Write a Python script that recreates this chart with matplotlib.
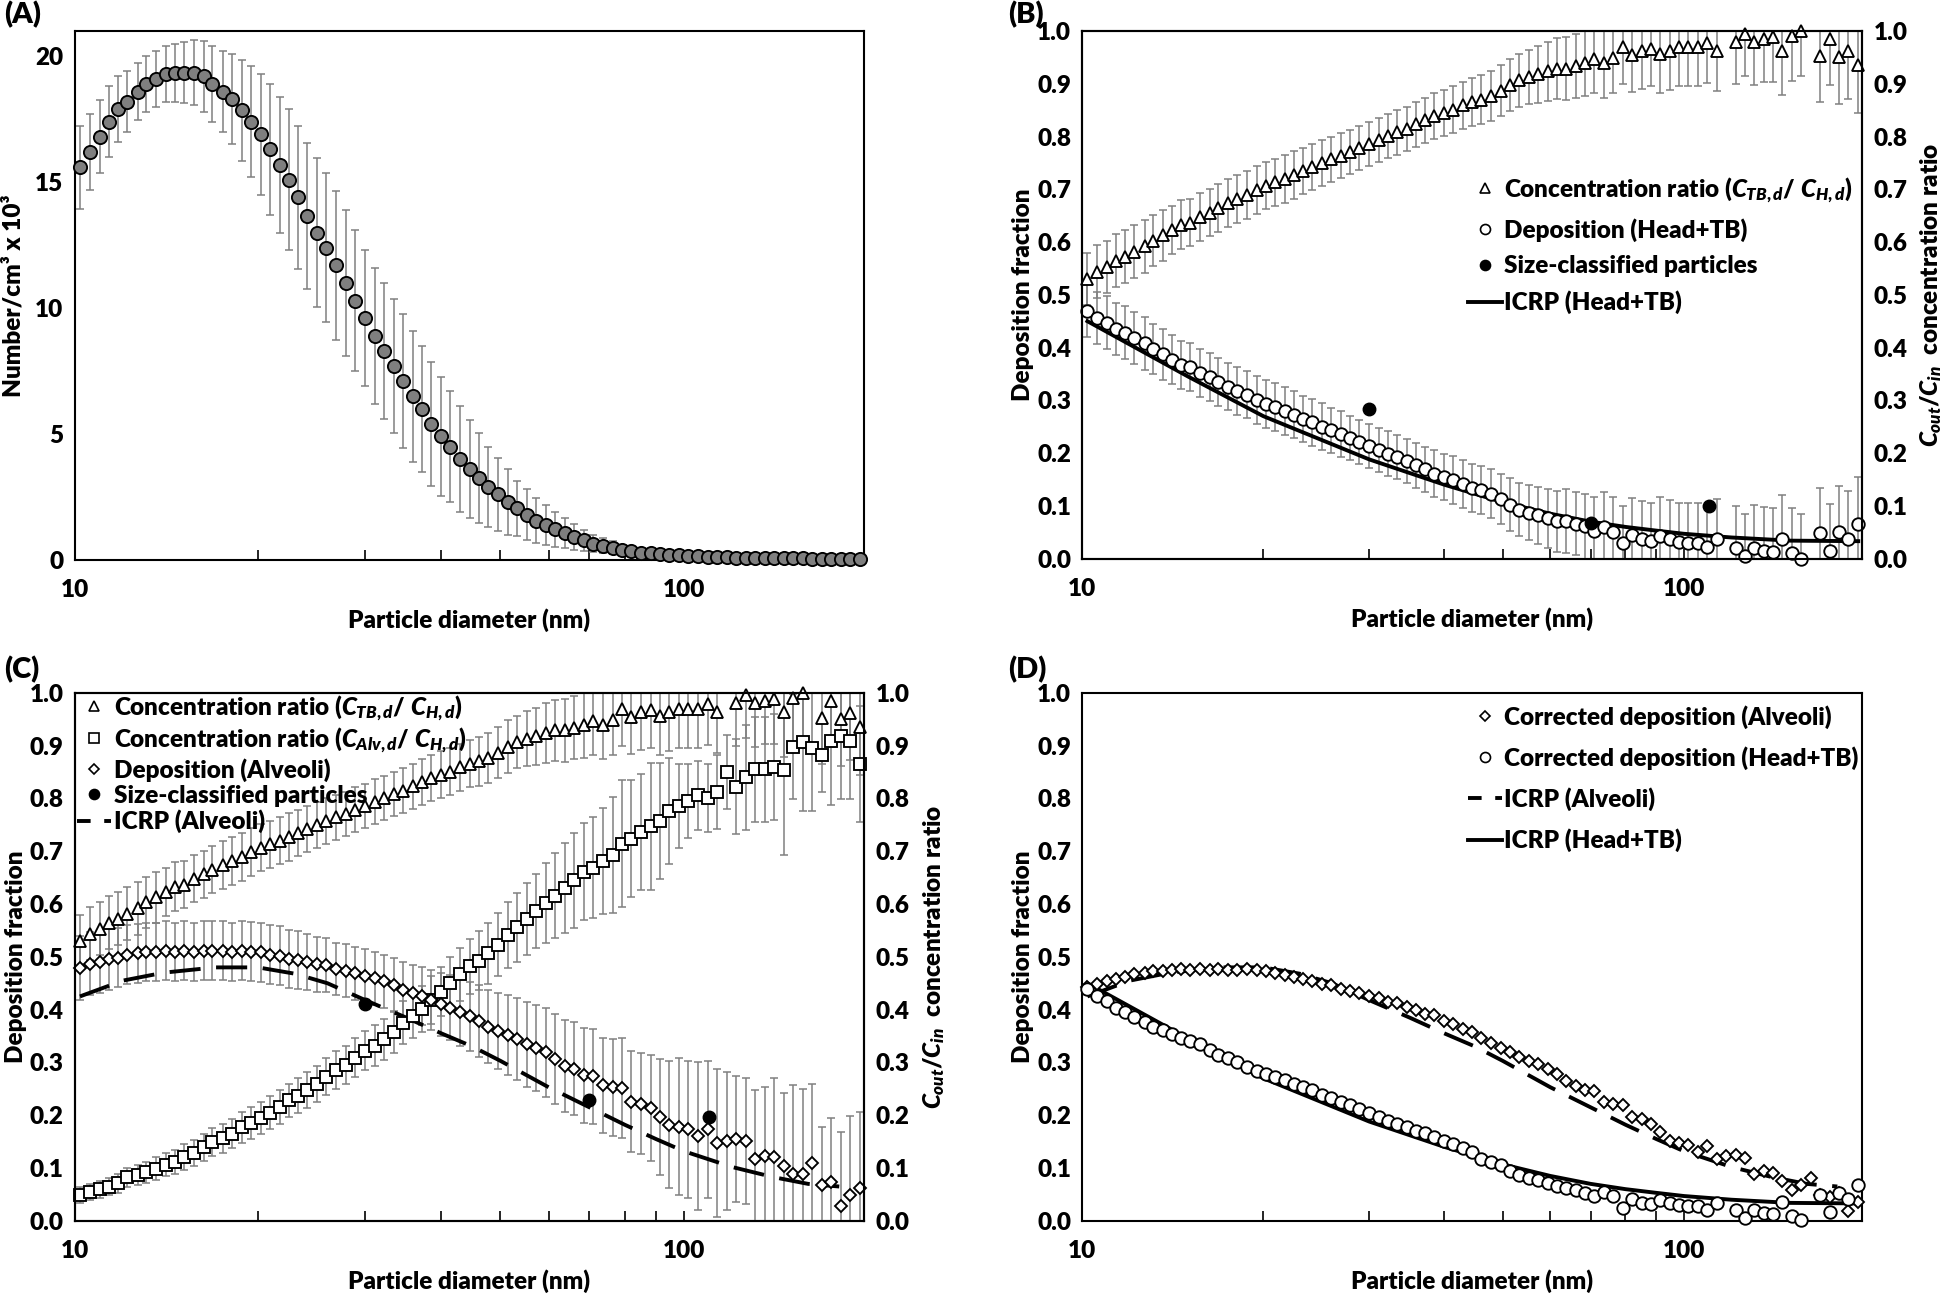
import numpy as np
import matplotlib
matplotlib.use('Agg')
import matplotlib.pyplot as plt
from matplotlib.lines import Line2D
from matplotlib.ticker import FixedLocator, FixedFormatter, NullFormatter, FormatStrFormatter

plt.rcParams['font.family'] = ['Lato', 'DejaVu Sans']
plt.rcParams['font.weight'] = 'heavy'
plt.rcParams['axes.labelweight'] = 'heavy'
plt.rcParams['mathtext.fontset'] = 'custom'
plt.rcParams['mathtext.it'] = 'Lato:italic:heavy'
plt.rcParams['mathtext.rm'] = 'Lato:heavy'
plt.rcParams['mathtext.bf'] = 'Lato:heavy'

nan = np.nan

# SMPS channel mid-point diameters (nm)
x_nm = [10.2, 10.6, 11.0, 11.4, 11.8, 12.2, 12.7, 13.1, 13.6, 14.1,
        14.6, 15.1, 15.7, 16.3, 16.8, 17.5, 18.1, 18.8, 19.5, 20.2,
        20.9, 21.7, 22.5, 23.3, 24.1, 25.0, 25.9, 26.9, 27.9, 28.9,
        30.0, 31.1, 32.2, 33.4, 34.6, 35.9, 37.2, 38.5, 40.0, 41.4,
        42.9, 44.5, 46.1, 47.8, 49.6, 51.4, 53.3, 55.2, 57.3, 59.4,
        61.5, 63.8, 66.1, 68.5, 71.0, 73.7, 76.4, 79.1, 82.0, 85.1,
        88.2, 91.4, 94.7, 98.2, 101.8, 105.5, 109.4, 113.4, 117.6, 121.9,
        126.3, 131.0, 135.8, 140.7, 145.9, 151.2, 156.8, 162.5, 168.5, 174.7,
        181.1, 187.7, 194.6]

# (A) number concentration, x10^3 /cm3
num_conc = [15.6, 16.2, 16.8, 17.4, 17.9, 18.2, 18.6, 18.9, 19.1, 19.3,
            19.35, 19.35, 19.35, 19.2, 18.9, 18.6, 18.3, 17.85, 17.4, 16.9,
            16.3, 15.7, 15.1, 14.4, 13.65, 13.0, 12.4, 11.7, 11.0, 10.3,
            9.6, 8.9, 8.3, 7.7, 7.1, 6.5, 6.0, 5.4, 4.9, 4.5,
            4.0, 3.6, 3.25, 2.9, 2.6, 2.3, 2.05, 1.8, 1.56, 1.38,
            1.22, 1.06, 0.91, 0.78, 0.65, 0.57, 0.49, 0.41, 0.34, 0.29,
            0.26, 0.23, 0.2, 0.18, 0.16, 0.14, 0.13, 0.12, 0.1, 0.09,
            0.09, 0.08, 0.08, 0.07, 0.07, 0.06, 0.06, 0.05, 0.05, 0.05,
            0.04, 0.04, 0.04]
num_err = [1.65, 1.5, 1.45, 1.4, 1.3, 1.2, 1.15, 1.1, 1.1, 1.1,
           1.15, 1.2, 1.3, 1.4, 1.5, 1.6, 1.8, 2.0, 2.2, 2.4,
           2.6, 2.7, 2.8, 2.85, 2.9, 2.95, 2.95, 2.95, 2.9, 2.8,
           2.7, 2.7, 2.7, 2.65, 2.65, 2.6, 2.5, 2.45, 2.35, 2.2,
           2.1, 1.95, 1.8, 1.6, 1.45, 1.3, 1.1, 1.0, 0.9, 0.8,
           0.7, 0.6, 0.5, 0.42, 0.35, 0.3, 0.25, 0.2, 0.15, 0.13,
           0.11, 0.09, 0.08, 0.07, 0.06, 0.05, 0.05, 0.04, 0.04, 0.03,
           0.03, 0.03, 0.03, 0.02, 0.02, 0.02, 0.02, 0.02, 0.02, 0.02,
           0.02, 0.02, 0.02]

# concentration ratio C_TB,d / C_H,d  (panels B and C)
ratio_tb = [0.530, 0.544, 0.553, 0.565, 0.572, 0.582, 0.592, 0.603, 0.613, 0.623,
            0.633, 0.637, 0.648, 0.656, 0.665, 0.674, 0.682, 0.689, 0.699, 0.707,
            0.713, 0.720, 0.727, 0.735, 0.742, 0.750, 0.757, 0.764, 0.771, 0.779,
            0.786, 0.794, 0.801, 0.808, 0.815, 0.823, 0.831, 0.839, 0.845, 0.851,
            0.859, 0.866, 0.870, 0.877, 0.887, 0.898, 0.907, 0.913, 0.918, 0.924,
            0.929, 0.929, 0.934, 0.939, 0.947, 0.940, 0.949, 0.970, 0.955, 0.963,
            0.967, 0.957, 0.963, 0.969, 0.970, 0.970, 0.978, 0.963, nan, 0.980,
            0.995, 0.980, 0.985, 0.988, 0.963, 0.990, 1.000, nan, 0.952, 0.985,
            0.950, 0.962, 0.935]
err_tb = [0.05, 0.05, 0.05, 0.05, 0.05, 0.05, 0.05, 0.048, 0.048, 0.046,
          0.046, 0.045, 0.045, 0.045, 0.045, 0.045, 0.045, 0.045, 0.045, 0.045,
          0.045, 0.045, 0.045, 0.044, 0.044, 0.044, 0.043, 0.043, 0.042, 0.042,
          0.042, 0.042, 0.042, 0.042, 0.042, 0.043, 0.043, 0.044, 0.044, 0.045,
          0.045, 0.045, 0.046, 0.047, 0.048, 0.05, 0.05, 0.052, 0.054, 0.056,
          0.058, 0.06, 0.06, 0.062, 0.064, 0.066, 0.066, 0.07, 0.07, 0.072,
          0.072, 0.074, 0.074, 0.074, 0.075, 0.075, 0.076, 0.076, 0.08, 0.08,
          0.08, 0.082, 0.082, 0.084, 0.084, 0.085, 0.085, 0.086, 0.086, 0.088,
          0.088, 0.09, 0.09]

# (B) deposition Head+TB
dep_htb = [0.470, 0.456, 0.447, 0.435, 0.428, 0.418, 0.408, 0.397, 0.387, 0.377,
           0.367, 0.363, 0.352, 0.344, 0.335, 0.326, 0.318, 0.311, 0.301, 0.293,
           0.287, 0.280, 0.273, 0.265, 0.258, 0.250, 0.243, 0.236, 0.229, 0.221,
           0.214, 0.206, 0.199, 0.192, 0.185, 0.177, 0.169, 0.161, 0.155, 0.149,
           0.141, 0.134, 0.130, 0.123, 0.113, 0.102, 0.093, 0.087, 0.082, 0.076,
           0.071, 0.071, 0.066, 0.061, 0.053, 0.060, 0.051, 0.030, 0.045, 0.037,
           0.033, 0.043, 0.037, 0.031, 0.030, 0.030, 0.022, 0.037, nan, 0.020,
           0.005, 0.020, 0.015, 0.012, 0.037, 0.010, 0.000, nan, 0.048, 0.015,
           0.050, 0.038, 0.065]

# (C) concentration ratio C_Alv,d / C_H,d
ratio_alv = [0.049, 0.055, 0.060, 0.065, 0.071, 0.083, 0.086, 0.092, 0.099, 0.106,
             0.112, 0.121, 0.129, 0.139, 0.149, 0.156, 0.165, 0.177, 0.185, 0.195,
             0.205, 0.215, 0.228, 0.237, 0.247, 0.260, 0.273, 0.286, 0.296, 0.309,
             0.322, 0.332, 0.344, 0.358, 0.375, 0.388, 0.401, 0.418, 0.434, 0.450,
             0.467, 0.482, 0.493, 0.507, 0.523, 0.541, 0.556, 0.572, 0.586, 0.602,
             0.616, 0.630, 0.645, 0.661, 0.669, 0.681, 0.693, 0.714, 0.724, 0.737,
             0.747, 0.757, 0.776, 0.786, 0.796, 0.806, 0.801, 0.813, 0.850, 0.822,
             0.840, 0.855, 0.855, 0.860, 0.853, 0.898, 0.907, 0.896, 0.882, 0.908,
             0.918, 0.909, 0.866]
err_alv = [0.015, 0.015, 0.016, 0.017, 0.018, 0.018, 0.019, 0.02, 0.021, 0.022,
           0.023, 0.024, 0.025, 0.026, 0.027, 0.027, 0.028, 0.029, 0.03, 0.03,
           0.031, 0.032, 0.032, 0.033, 0.034, 0.034, 0.035, 0.036, 0.036, 0.037,
           0.037, 0.038, 0.039, 0.04, 0.041, 0.042, 0.043, 0.045, 0.047, 0.05,
           0.05, 0.052, 0.055, 0.058, 0.06, 0.062, 0.065, 0.068, 0.07, 0.075,
           0.08, 0.085, 0.09, 0.092, 0.095, 0.1, 0.11, 0.12, 0.11, 0.11,
           0.12, 0.11, 0.1, 0.08, 0.07, 0.065, 0.065, 0.07, 0.07, 0.09,
           0.1, 0.1, 0.1, 0.1, 0.16, 0.1, 0.13, 0.12, 0.07, 0.12,
           0.12, 0.11, 0.11]

# (C) deposition Alveoli
dep_alv = [0.479, 0.487, 0.490, 0.496, 0.498, 0.504, 0.507, 0.510, 0.510, 0.512,
           0.510, 0.512, 0.510, 0.512, 0.512, 0.512, 0.510, 0.512, 0.510, 0.509,
           0.504, 0.502, 0.496, 0.494, 0.490, 0.486, 0.484, 0.477, 0.474, 0.469,
           0.464, 0.459, 0.454, 0.446, 0.438, 0.431, 0.425, 0.419, 0.410, 0.404,
           0.395, 0.387, 0.378, 0.368, 0.360, 0.352, 0.344, 0.334, 0.327, 0.319,
           0.307, 0.294, 0.288, 0.276, 0.274, 0.257, 0.253, 0.252, 0.226, 0.222,
           0.214, 0.196, 0.182, 0.178, 0.173, 0.161, 0.173, 0.147, 0.151, 0.155,
           0.151, 0.118, 0.123, 0.120, 0.103, 0.088, 0.089, 0.109, 0.068, 0.074,
           0.028, 0.049, 0.062]
err_dalv = [0.06, 0.06, 0.058, 0.058, 0.056, 0.056, 0.056, 0.055, 0.055, 0.055,
            0.055, 0.055, 0.055, 0.055, 0.055, 0.055, 0.055, 0.055, 0.056, 0.056,
            0.056, 0.056, 0.055, 0.054, 0.053, 0.052, 0.051, 0.05, 0.05, 0.05,
            0.05, 0.05, 0.05, 0.051, 0.052, 0.053, 0.055, 0.057, 0.06, 0.062,
            0.064, 0.066, 0.068, 0.07, 0.072, 0.075, 0.078, 0.08, 0.082, 0.084,
            0.085, 0.087, 0.088, 0.09, 0.09, 0.09, 0.092, 0.095, 0.095, 0.095,
            0.1, 0.11, 0.12, 0.13, 0.13, 0.14, 0.13, 0.14, 0.13, 0.12,
            0.12, 0.13, 0.13, 0.15, 0.14, 0.17, 0.16, 0.15, 0.11, 0.12,
            0.14, 0.15, 0.145]

# (D) corrected deposition
corr_alv = [0.442, 0.448, 0.454, 0.458, 0.462, 0.467, 0.469, 0.473, 0.474, 0.475,
            0.477, 0.475, 0.477, 0.475, 0.477, 0.475, 0.475, 0.477, 0.475, 0.473,
            0.469, 0.466, 0.462, 0.458, 0.454, 0.449, 0.446, 0.440, 0.436, 0.431,
            0.425, 0.422, 0.415, 0.412, 0.405, 0.399, 0.392, 0.389, 0.379, 0.373,
            0.363, 0.357, 0.346, 0.336, 0.328, 0.320, 0.311, 0.302, 0.297, 0.287,
            0.279, 0.264, 0.256, 0.248, 0.245, 0.225, 0.222, 0.220, 0.196, 0.192,
            0.184, 0.169, 0.152, 0.148, 0.143, 0.130, 0.141, 0.117, 0.122, 0.124,
            0.119, 0.089, 0.094, 0.091, 0.075, 0.058, 0.068, 0.081, 0.048, 0.045,
            0.052, 0.019, 0.035]
corr_htb = [0.440, 0.426, 0.416, 0.403, 0.396, 0.386, 0.376, 0.368, 0.361, 0.354,
            0.346, 0.341, 0.334, 0.323, 0.314, 0.308, 0.301, 0.291, 0.284, 0.278,
            0.273, 0.266, 0.260, 0.253, 0.247, 0.239, 0.233, 0.226, 0.219, 0.212,
            0.204, 0.197, 0.190, 0.183, 0.178, 0.171, 0.166, 0.158, 0.152, 0.145,
            0.137, 0.130, 0.118, 0.112, 0.105, 0.095, 0.086, 0.081, 0.077, 0.072,
            0.066, 0.063, 0.058, 0.053, 0.047, 0.055, 0.047, 0.025, 0.042, 0.034,
            0.031, 0.040, 0.034, 0.030, 0.029, 0.028, 0.021, 0.033, nan, 0.020,
            0.005, 0.021, 0.015, 0.013, 0.036, 0.009, 0.002, nan, 0.049, 0.016,
            0.052, 0.041, 0.068]

# size-classified particle experiments
sc_d = [30, 70, 110]
sc_htb = [0.284, 0.068, 0.099]
sc_alv = [0.41, 0.228, 0.197]

# ICRP model curves
icrp_htb_d = [10.2, 15, 20, 30, 40, 50, 60, 70, 80, 90, 100, 120, 150, 195]
icrp_htb = [0.45, 0.345, 0.27, 0.188, 0.14, 0.107, 0.085, 0.07, 0.06, 0.053, 0.047, 0.04, 0.034, 0.033]
icrp_alv_d = [10.2, 12, 14, 17, 20, 23, 26, 30, 35, 40, 45, 50, 60, 70, 80, 90, 100, 120, 140, 160, 180]
icrp_alv = [0.425, 0.455, 0.47, 0.48, 0.48, 0.468, 0.45, 0.418, 0.385, 0.355, 0.33, 0.303,
            0.253, 0.215, 0.182, 0.155, 0.132, 0.102, 0.083, 0.07, 0.065]

FS = 17.5
EC = '#808080'
DASH = (8, 4)

fig = plt.figure(figsize=(19.5, 12.96), dpi=100)
axA = fig.add_axes([0.0383, 0.568, 0.405, 0.408])
axB = fig.add_axes([0.555, 0.569, 0.400, 0.407])
axC = fig.add_axes([0.0383, 0.058, 0.405, 0.4074])
axD = fig.add_axes([0.555, 0.058, 0.400, 0.4074])


def style(ax):
    ax.set_xscale('log')
    ax.set_xlim(10, 198)
    ax.xaxis.set_major_locator(FixedLocator([10, 100]))
    ax.xaxis.set_major_formatter(FixedFormatter(['10', '100']))
    ax.xaxis.set_minor_locator(FixedLocator([20, 30, 40, 50, 60, 70, 80, 90]))
    ax.xaxis.set_minor_formatter(NullFormatter())
    ax.tick_params(axis='x', which='both', direction='in', length=7, width=1.2,
                   labelsize=FS, pad=14, top=False)
    ax.tick_params(axis='y', length=0, labelsize=FS, pad=8)
    for s in ax.spines.values():
        s.set_linewidth(1.5)
    ax.set_xlabel('Particle diameter (nm)', fontsize=FS, labelpad=5)


def frac_axis(ax, right=True):
    ax.set_ylim(0, 1)
    ax.set_yticks(np.arange(0, 1.01, 0.1))
    ax.yaxis.set_major_formatter(FormatStrFormatter('%.1f'))
    ax.set_ylabel('Deposition fraction', fontsize=FS, labelpad=2)
    if right:
        r = ax.twinx()
        r.set_ylim(0, 1)
        r.set_yticks(np.arange(0, 1.01, 0.1))
        r.yaxis.set_major_formatter(FormatStrFormatter('%.1f'))
        r.tick_params(axis='y', length=0, labelsize=FS, pad=8)
        r.set_ylabel('$C_{out}/C_{in}$  concentration ratio', fontsize=FS, labelpad=8)
        for s in r.spines.values():
            s.set_linewidth(1.5)


def series(ax, y, err, marker, ms, face='white', z=3):
    if err is not None:
        ax.errorbar(x_nm, y, yerr=err, fmt='none', ecolor=EC, elinewidth=1.1,
                    capsize=2.8, capthick=1.1, zorder=z)
    ax.plot(x_nm, y, ls='none', marker=marker, ms=ms, mfc=face, mec='black',
            mew=1.35, clip_on=False, zorder=z + 0.5)


tri = dict(marker='^', ms=9)
circ = dict(marker='o', ms=9)
sq = dict(marker='s', ms=8.5)
dia = dict(marker='D', ms=6.5)


def h_marker(m, ms, face='white'):
    return Line2D([], [], ls='none', marker=m, ms=ms * 0.8, mfc=face, mec='black', mew=1.2)


h_tri = h_marker('^', 9)
h_circ = h_marker('o', 9)
h_sq = h_marker('s', 8.5)
h_dia = h_marker('D', 6.5)
h_dot = h_marker('o', 9, 'black')
h_solid = Line2D([], [], color='black', lw=2.8)
h_dash = Line2D([], [], color='black', lw=2.8, dashes=(3.5, 3.5))

lbl_tb = 'Concentration ratio ($C_{TB,d}$/ $C_{H,d}$)'
lbl_alv = 'Concentration ratio ($C_{Alv,d}$/ $C_{H,d}$)'

# ---- (A)
style(axA)
axA.errorbar(x_nm, num_conc, yerr=num_err, fmt='none', ecolor=EC, elinewidth=1.1,
             capsize=2.8, capthick=1.1, zorder=3)
axA.plot(x_nm, num_conc, ls='none', marker='o', ms=9.5, mfc='#7f7f7f', mec='black',
         mew=1.35, clip_on=False, zorder=4)
axA.set_ylim(0, 21)
axA.set_yticks([0, 5, 10, 15, 20])
axA.set_ylabel('Number/cm³ x 10³', fontsize=FS, labelpad=8)

# ---- (B)
style(axB)
frac_axis(axB)
series(axB, ratio_tb, err_tb, **tri)
series(axB, dep_htb, err_tb, **circ)
axB.plot(icrp_htb_d, icrp_htb, color='black', lw=2.8, zorder=3.2)
axB.plot(sc_d, sc_htb, ls='none', marker='o', ms=9, color='black', zorder=5)
axB.legend([h_tri, h_circ, h_dot, h_solid],
           [lbl_tb, 'Deposition (Head+TB)', 'Size-classified particles', 'ICRP (Head+TB)'],
           loc='upper left', bbox_to_anchor=(0.494, 0.727), frameon=False, fontsize=FS,
           handlelength=1.4, handletextpad=0.1, labelspacing=0.55, borderpad=0,
           borderaxespad=0)

# ---- (C)
style(axC)
frac_axis(axC)
series(axC, ratio_tb, err_tb, **tri)
series(axC, ratio_alv, err_alv, **sq)
series(axC, dep_alv, err_dalv, **dia)
axC.plot(icrp_alv_d, icrp_alv, color='black', lw=2.8, dashes=DASH, zorder=3.2)
axC.plot(sc_d, sc_alv, ls='none', marker='o', ms=9, color='black', zorder=5)
axC.legend([h_tri, h_sq, h_dia, h_dot, h_dash],
           [lbl_tb, lbl_alv, 'Deposition (Alveoli)', 'Size-classified particles', 'ICRP (Alveoli)'],
           loc='upper left', bbox_to_anchor=(0.003, 1.0), frameon=False, fontsize=FS,
           handlelength=1.4, handletextpad=0.1, labelspacing=0.12, borderpad=0,
           borderaxespad=0)

# ---- (D)
style(axD)
frac_axis(axD, right=False)
axD.plot(icrp_alv_d, icrp_alv, color='black', lw=2.8, dashes=DASH, zorder=3)
axD.plot(icrp_htb_d, icrp_htb, color='black', lw=2.8, zorder=3)
series(axD, corr_alv, None, **dia)
series(axD, corr_htb, None, **circ)
axD.legend([h_dia, h_circ, h_dash, h_solid],
           ['Corrected deposition (Alveoli)', 'Corrected deposition (Head+TB)',
            'ICRP (Alveoli)', 'ICRP (Head+TB)'],
           loc='upper left', bbox_to_anchor=(0.494, 0.977), frameon=False, fontsize=FS,
           handlelength=1.4, handletextpad=0.1, labelspacing=0.72, borderpad=0,
           borderaxespad=0)

for lab, xx, yy in [('(A)', 0.002, 0.999), ('(B)', 0.517, 0.999),
                    ('(C)', 0.002, 0.494), ('(D)', 0.517, 0.494)]:
    fig.text(xx, yy, lab, fontsize=21, ha='left', va='top')

fig.savefig('out.png', dpi=100)
